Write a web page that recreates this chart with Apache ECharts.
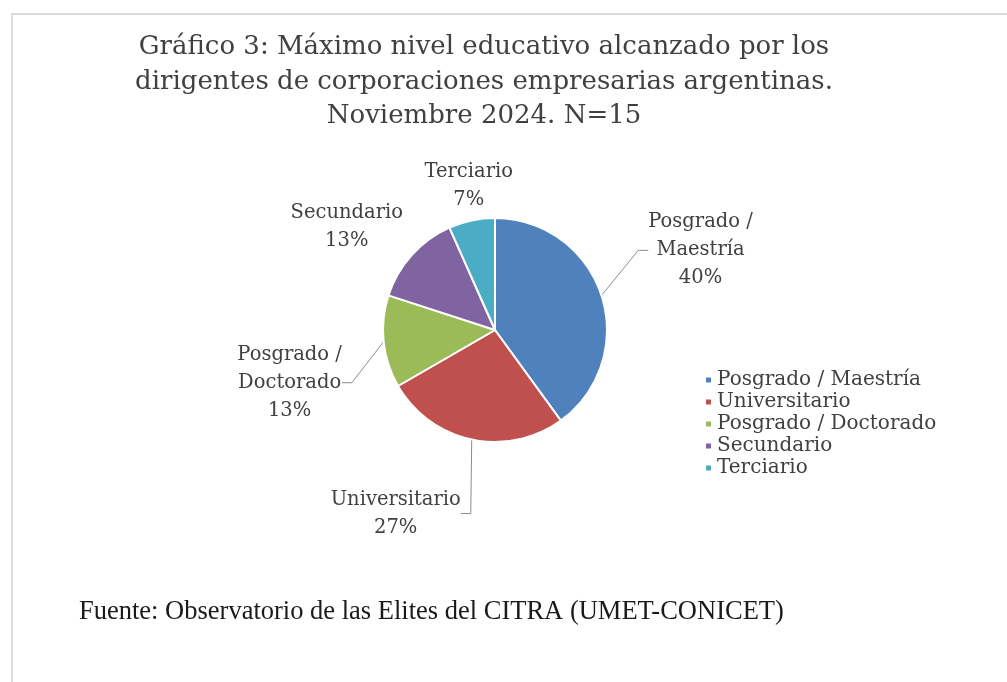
<!DOCTYPE html>
<html>
<head>
<meta charset="utf-8">
<script src="https://cdn.jsdelivr.net/npm/echarts@6/dist/echarts.min.js"></script>
<style>
html,body{margin:0;padding:0;background:#fff;}
#c{width:1007px;height:682px;}
</style>
</head>
<body>
<div id="c"></div>
<script>
// ---- data ----
var titleLines = [
  'Gráfico 3: Máximo nivel educativo alcanzado por los',
  'dirigentes de corporaciones empresarias argentinas.',
  'Noviembre 2024. N=15'
];
var sourceText = 'Fuente: Observatorio de las Elites del CITRA (UMET-CONICET)';
var categories = ['Posgrado / Maestría', 'Universitario', 'Posgrado / Doctorado', 'Secundario', 'Terciario'];
var counts = [6, 4, 2, 2, 1];
var colors = ['#4F81BD', '#C0504D', '#9BBB59', '#8064A2', '#4BACC6'];

// label offsets from each slice's edge midpoint (styling)
var labelOffset = [[99, -45], [-76, 74], [-94, 41], [-65, -28], [-3, -35]];
var showLeader = [true, true, true, false, false];

var chart = echarts.init(document.getElementById('c'), null, {renderer: 'canvas'});

var pieData = categories.map(function (name, i) {
  return {
    name: name,
    value: counts[i],
    itemStyle: {color: colors[i]},
    labelLine: {
      show: true,
      length: 10,
      length2: 10,
      lineStyle: {color: '#8c8c8c', width: showLeader[i] ? 1 : 0, opacity: showLeader[i] ? 1 : 0}
    }
  };
});

chart.setOption({
  backgroundColor: '#ffffff',
  animation: false,
  graphic: [{
    type: 'rect',
    shape: {x: 12, y: 14, width: 1100, height: 800},
    style: {fill: 'none', stroke: '#cfcfcf', lineWidth: 1.5},
    silent: true
  }],
  title: [{
    text: titleLines.join('\n'),
    left: 479,
    top: 25,
    textAlign: 'center',
    textStyle: {
      fontFamily: 'DejaVu Serif',
      fontWeight: 'normal',
      fontSize: 26,
      lineHeight: 34.5,
      color: '#404040'
    }
  }, {
    text: sourceText,
    left: 74,
    top: 594,
    textStyle: {
      fontFamily: 'Liberation Serif',
      fontWeight: 'normal',
      fontSize: 26.5,
      color: '#1a1a1a'
    }
  }],
  legend: {
    orient: 'vertical',
    left: 699,
    top: 365,
    itemWidth: 7,
    itemHeight: 7,
    itemGap: 2,
    icon: 'rect',
    selectedMode: false,
    textStyle: {
      fontFamily: 'DejaVu Serif',
      fontSize: 20,
      lineHeight: 20,
      color: '#404040'
    },
    data: categories
  },
  series: [{
    type: 'pie',
    center: [495, 330],
    radius: 112,
    startAngle: 90,
    clockwise: true,
    percentPrecision: 0,
    avoidLabelOverlap: false,
    itemStyle: {borderColor: '#ffffff', borderWidth: 2},
    label: {
      show: true,
      position: 'outside',
      fontFamily: 'DejaVu Serif',
      fontSize: 19.5,
      lineHeight: 28,
      color: '#404040',
      formatter: function (p) {
        return p.name.replace(' / ', ' /\n') + '\n' + p.percent + '%';
      }
    },
    labelLayout: function (params) {
      var i = params.dataIndex;
      var pts = params.labelLinePoints;
      if (!pts) return {};
      return {
        x: pts[0][0] + labelOffset[i][0],
        y: pts[0][1] + labelOffset[i][1],
        align: 'center',
        verticalAlign: 'middle'
      };
    },
    emphasis: {disabled: true},
    data: pieData
  }]
});
</script>
</body>
</html>
